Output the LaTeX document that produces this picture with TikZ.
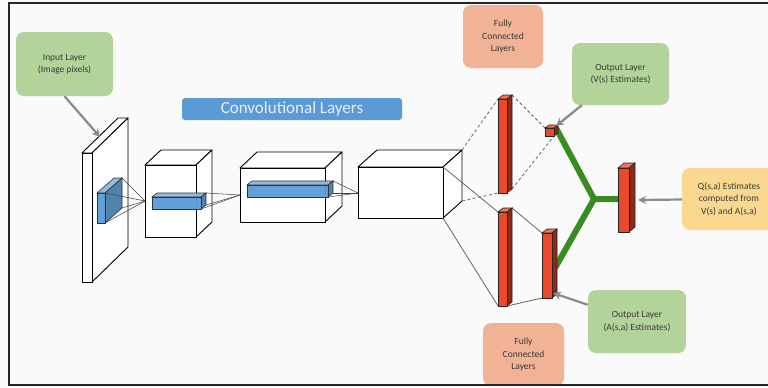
\documentclass[tikz,border=0pt]{standalone}
\usepackage{fontspec}
\setmainfont{Carlito}
\usetikzlibrary{arrows.meta,calc}

\definecolor{boxgreen}{HTML}{B2D39A}
\definecolor{boxsalmon}{HTML}{F1B296}
\definecolor{boxyellow}{HTML}{FAD890}
\definecolor{convblue}{HTML}{5B9BD5}
\definecolor{calloutgray}{HTML}{8A8A8A}
\definecolor{headgreen}{HTML}{3A8C22}
\definecolor{txtgray}{HTML}{3A3A3A}
\definecolor{fcfront}{HTML}{EA4A2A}
\definecolor{fctop}{HTML}{F27456}
\definecolor{fcside}{HTML}{8C2A18}

% A box in oblique projection: front face, top face and right face.
% #1 name, #2..#5 front face corners, #6,#7 depth offset, #8 style family
\newcommand{\drawcuboid}[8]{%
  \coordinate (#1-ftl) at (#2,#3);
  \coordinate (#1-ftr) at (#4,#3);
  \coordinate (#1-fbr) at (#4,#5);
  \coordinate (#1-fbl) at (#2,#5);
  \coordinate (#1-btl) at ({#2+(#6)},{#3+(#7)});
  \coordinate (#1-btr) at ({#4+(#6)},{#3+(#7)});
  \coordinate (#1-bbr) at ({#4+(#6)},{#5+(#7)});
  \path[#8 top]  (#1-ftl) -- (#1-ftr) -- (#1-btr) -- (#1-btl) -- cycle;
  \path[#8 side] (#1-ftr) -- (#1-btr) -- (#1-bbr) -- (#1-fbr) -- cycle;
  \path[#8 front] (#1-ftl) rectangle (#1-fbr);
}

\tikzset{
  wire top/.style={fill=white,draw=black,line width=0.9pt,line join=round},
  wire side/.style={fill=white,draw=black,line width=0.9pt,line join=round},
  wire front/.style={fill=white,draw=black,line width=0.9pt,line join=round},
  blue top/.style={fill=convblue!70!white,draw=black!80,line width=0.6pt,fill opacity=0.95},
  blue side/.style={fill=convblue!80!black,draw=black!80,line width=0.6pt,fill opacity=0.95},
  blue front/.style={fill=convblue,draw=black!80,line width=0.6pt,fill opacity=0.95},
  red top/.style={fill=fctop,draw=black!85,line width=0.6pt},
  red side/.style={fill=fcside,draw=black!85,line width=0.6pt},
  red front/.style={fill=fcfront,draw=black!85,line width=0.6pt},
  note/.style={rounded corners=8pt,align=center,text=txtgray,
    font=\fontsize{9.5}{12.2}\selectfont,inner sep=2pt},
  callout/.style={draw=calloutgray,line width=2.2pt,
    -{Stealth[length=8pt,width=8pt]}},
  fan/.style={draw=black!75,line width=0.5pt},
  thin link/.style={draw=black!60,line width=0.8pt},
  dash link/.style={draw=black!60,line width=0.8pt,dashed,dash pattern=on 3pt off 2.5pt},
  head/.style={draw=headgreen,line width=6pt,line join=miter,line cap=butt},
}

\begin{document}
\begin{tikzpicture}[x=1pt,y=-1pt]
\useasboundingbox (0,0) rectangle (768,388);
\fill[white!98!black] (0,0) rectangle (768,388);

% ---- text boxes
\node[note,fill=boxgreen,minimum width=97pt,minimum height=64pt] (inbox) at (64.5,64)
  {Input Layer\\(Image pixels)};
\node[rounded corners=3pt,fill=convblue,text=white!92!blue,minimum width=220pt,
  minimum height=22pt,inner sep=0pt,font=\fontsize{17}{18}\selectfont] (convlabel)
  at (292,109) {Convolutional Layers};
\node[note,fill=boxsalmon,minimum width=80pt,minimum height=63pt] (fctopbox) at (503,36.5)
  {Fully\\Connected\\Layers};
\node[note,fill=boxgreen,minimum width=97pt,minimum height=62pt] (vbox) at (620.5,74)
  {Output Layer\\(V(s) Estimates)};
\node[note,fill=boxyellow,minimum width=94pt,minimum height=62pt] (qbox) at (729,199)
  {Q(s,a) Estimates\\computed from\\V(s) and A(s,a)};
\node[note,fill=boxgreen,minimum width=98pt,minimum height=63pt] (abox) at (637,321.5)
  {Output Layer\\(A(s,a) Estimates)};
\node[note,fill=boxsalmon,minimum width=81pt,minimum height=63pt] (fcbotbox) at (523.5,354.5)
  {Fully\\Connected\\Layers};

% ---- input plate with its receptive patch
\drawcuboid{plate}{82}{153}{92}{282}{36}{-35}{wire}
\drawcuboid{pb}{97}{193}{105}{223}{17}{-15}{blue}
\coordinate (plate-mark) at (100,137);

% ---- convolutional volumes
\drawcuboid{c1}{145}{165}{196}{237}{16}{-15}{wire}
\drawcuboid{b1}{152}{197}{201}{209}{5}{-4}{blue}
\coordinate (c1-in) at (145,201);
\foreach \p in {pb-btr,pb-bbr,pb-ftr,pb-fbr} \draw[fan] (\p) -- (c1-in);

\drawcuboid{c2}{240}{168}{325}{222}{17}{-16}{wire}
\drawcuboid{b2}{247}{185}{328}{197}{5}{-4}{blue}
\coordinate (c2-in) at (240,195);
\foreach \p in {b1-btr,b1-bbr,b1-fbr} \draw[fan] (\p) -- (c2-in);

\drawcuboid{c3}{358}{167}{443}{218}{19}{-17}{wire}
\coordinate (c3-in) at (358,193);
\foreach \p in {b2-btr,b2-bbr,b2-fbr} \draw[fan] (\p) -- (c3-in);

% ---- links into the two fully connected streams
\coordinate (fc1a) at (498,99);
\coordinate (fc1b) at (498,193);
\coordinate (fc2a) at (498,212);
\coordinate (fc2b) at (498,306);
\coordinate (vl) at (545,128);
\coordinate (vr) at (554,136);
\coordinate (al) at (542,233);
\coordinate (ab) at (542,298);
\coordinate (fc1-out-a) at (512,95);
\coordinate (fc1-out-b) at (512,189);
\coordinate (fc2-out-a) at (512,208);
\coordinate (fc2-out-b) at (507,306);
\draw[dash link] (c3-btr) -- (fc1a);
\draw[dash link] (c3-bbr) -- (fc1b);
\draw[thin link] (c3-ftr) -- (fc2a);
\draw[thin link] (c3-fbr) -- (fc2b);
\draw[dash link] (fc1-out-a) -- (vl);
\draw[dash link] (fc1-out-b) -- (vr);
\draw[thin link] (fc2-out-a) -- (al);
\draw[thin link] (fc2-out-b) -- (ab);

% ---- aggregation of the two heads
\coordinate (junc) at (594,199);
\coordinate (v-out) at (556,128);
\coordinate (a-out) at (555,268);
\coordinate (q-in) at (619,199);
\draw[head] (v-out) -- (junc) -- (q-in);
\draw[head] (junc) -- (a-out);

% ---- fully connected and output layers
\drawcuboid{fc1}{498}{99}{507}{193}{5}{-4}{red}
\drawcuboid{fc2}{498}{212}{507}{306}{5}{-4}{red}
\drawcuboid{v}{545}{128}{554}{136}{4}{-3}{red}
\drawcuboid{a}{542}{233}{552}{298}{5}{-4}{red}
\drawcuboid{q}{618}{168}{629}{232}{6}{-5}{red}

% ---- callouts
\coordinate (v-mark) at (556,126);
\coordinate (a-mark) at (553,293);
\coordinate (q-mark) at (638,200);
\draw[callout] (inbox.south) -- (plate-mark);
\draw[callout] (vbox) -- (v-mark);
\draw[callout] (abox) -- (a-mark);
\draw[callout] (qbox) -- (q-mark);

% ---- frame
\draw[line width=1.8pt,black!85] (775,3) -- (9,3) -- (9,385) -- (775,385);
\end{tikzpicture}
\end{document}
